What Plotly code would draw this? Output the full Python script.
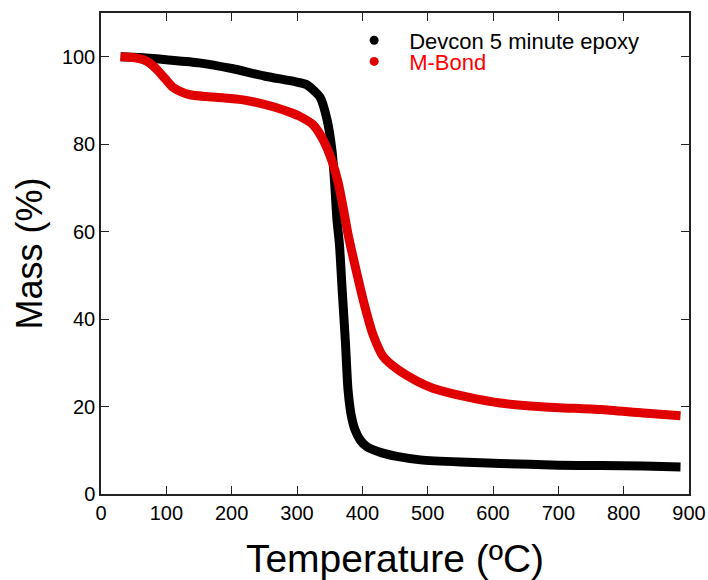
import plotly.graph_objects as go

devcon_T = [30, 60, 100, 150, 200, 250, 300, 315, 335, 346, 354, 358, 361, 365, 369, 374, 378, 383, 389, 397, 407, 430, 453, 489, 550, 611, 700, 764, 830, 887]
devcon_M = [100, 99.8, 99.3, 98.6, 97.3, 95.6, 94.2, 93.6, 90.8, 85.6, 78, 70.3, 63, 57, 47, 35, 24, 18, 14.6, 12.3, 10.8, 9.4, 8.6, 7.8, 7.3, 7.0, 6.6, 6.5, 6.4, 6.2]

mbond_T = [30, 50, 65, 75, 86, 98, 110, 122, 136, 160, 187, 215, 239, 265, 289, 305, 325, 340, 353, 363, 370, 378, 392, 404, 416, 432, 453, 484, 508, 560, 611, 680, 764, 830, 887]
mbond_M = [100, 99.8, 99.3, 98.5, 97, 95, 93, 92, 91.3, 90.9, 90.6, 90.2, 89.5, 88.5, 87.3, 86.3, 84.4, 81, 76.4, 71.2, 66, 59.5, 50.2, 42.8, 36.6, 31.4, 28.6, 25.8, 24.2, 22.2, 20.8, 19.9, 19.3, 18.5, 17.9]

x_ticks = [0, 100, 200, 300, 400, 500, 600, 700, 800, 900]
y_ticks = [0, 20, 40, 60, 80, 100]

BLACK = "#000000"
RED = "#e00000"
FONT = "Liberation Sans, Arial, sans-serif"

fig = go.Figure()
fig.add_trace(go.Scatter(x=devcon_T, y=devcon_M, mode="lines",
                         line=dict(color=BLACK, width=9, shape="spline", smoothing=0.6), showlegend=False))
fig.add_trace(go.Scatter(x=mbond_T, y=mbond_M, mode="lines",
                         line=dict(color=RED, width=9, shape="spline", smoothing=0.6), showlegend=False))
fig.add_trace(go.Scatter(x=[None], y=[None], mode="markers", marker=dict(color=BLACK, size=9),
                         name="Devcon 5 minute epoxy", legend="legend"))
fig.add_trace(go.Scatter(x=[None], y=[None], mode="markers", marker=dict(color=RED, size=9),
                         name="M-Bond", legend="legend2"))

axis_common = dict(showgrid=False, zeroline=False, showline=True, linecolor="#222222", linewidth=1.5,
                   mirror="ticks", ticks="inside", ticklen=8, tickwidth=1.2, tickcolor="#222222",
                   automargin=False,
                   tickfont=dict(family=FONT, size=20, color="#000000"))

fig.update_xaxes(range=[0, 900], tickvals=x_ticks, **axis_common,
                 title=dict(text="Temperature (ºC)", font=dict(family=FONT, size=39, color="#000000"), standoff=22))
fig.update_yaxes(range=[0, 110], tickvals=y_ticks, **axis_common,
                 title=dict(text="Mass (%)", font=dict(family=FONT, size=36, color="#000000"), standoff=8))

leg_common = dict(xanchor="left", yanchor="middle", bgcolor="rgba(0,0,0,0)", itemwidth=60,
                  xref="paper", yref="paper")
fig.update_layout(
    width=708, height=580,
    margin=dict(l=101, r=19, t=13, b=86),
    plot_bgcolor="white", paper_bgcolor="white",
    legend=dict(x=0.405, y=0.943, font=dict(family=FONT, size=22, color="#000000"), **leg_common),
    legend2=dict(x=0.405, y=0.899, font=dict(family=FONT, size=22, color="#ff0000"), **leg_common),
)

fig.write_html("out.html", config={"displayModeBar": False},
               post_script="document.body.style.margin='0';")
